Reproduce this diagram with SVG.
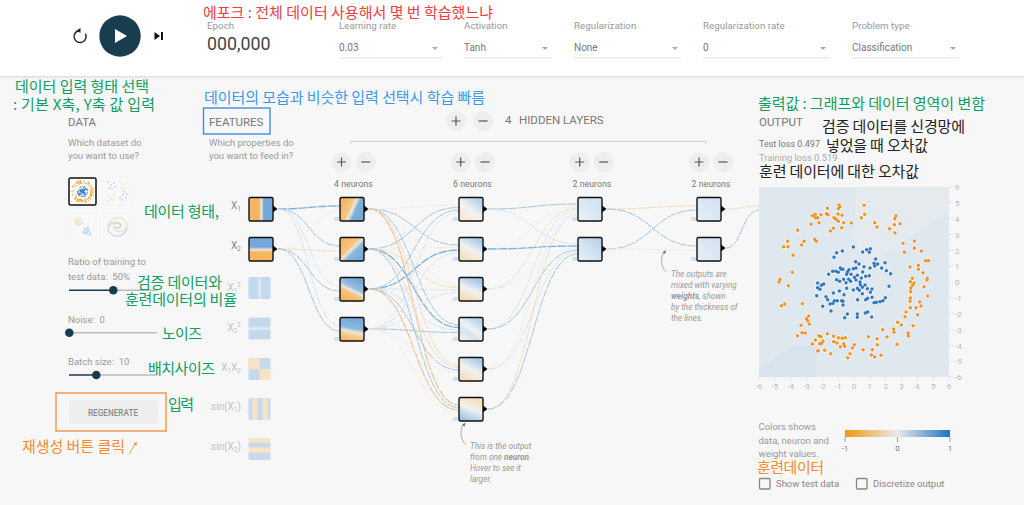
<svg xmlns="http://www.w3.org/2000/svg" width="1024" height="505" viewBox="0 0 1024 505">
<style>
text{font-family:Roboto,"Liberation Sans",sans-serif;fill:#999;font-size:9.5px}
.h{font-size:11.500px;fill:#777}
.lab{font-size:9.800px;fill:#999}
.val{font-size:10px;fill:#777}
.kr{font-family:"Noto Sans CJK KR",sans-serif;font-size:15px}
.gr{fill:#0f9d62}.bl{fill:#3d98ea}.re{fill:#ee4040}.or{fill:#f98a2d}.bk{fill:#222}
.hint{font-size:8.200px;font-style:italic;fill:#999}
.ax{font-size:8px;fill:#bbb;text-anchor:start}
.axm{font-size:8px;fill:#bbb;text-anchor:middle}
.neu{font-size:8.800px;fill:#777;text-anchor:middle}
.fea{text-anchor:end;fill:#888;font-size:10px}
.fad{text-anchor:end;fill:#c2c2c2;font-size:10px}
.sub{font-size:6.500px}
.und{stroke:#ebebeb;stroke-width:1.5;fill:none}
.btn{fill:#eeeeee}
.sym{stroke:#555;stroke-width:1.2;fill:none}
.node{stroke:#111;stroke-width:1.4}
.link{fill:none;stroke-dasharray:9 1}
.b3{stroke:#7fb2de;stroke-width:1.3}.b2{stroke:#a3c6e4;stroke-width:1}.b1{stroke:#cfdfee;stroke-width:.8}
.o3{stroke:#efc288;stroke-width:1.1}.o2{stroke:#f3d9b6;stroke-width:.9}.o1{stroke:#f5e9d8;stroke-width:.8}
.g1{stroke:#e8eaeb;stroke-width:.8}
.track{stroke:#bbb;stroke-width:1.5}.fill{stroke:#183d4e;stroke-width:1.5}.thumb{fill:#183d4e}
</style>
<defs>
<linearGradient id="gx1" x1="0" y1="0" x2="1" y2="0"><stop offset="0" stop-color="#f5b65f"/><stop offset=".42" stop-color="#f5b65f"/><stop offset=".52" stop-color="#e9e7de"/><stop offset=".62" stop-color="#74a8d9"/><stop offset="1" stop-color="#74a8d9"/></linearGradient>
<linearGradient id="gx2" x1="0" y1="0" x2="0" y2="1"><stop offset="0" stop-color="#74a8d9"/><stop offset=".4" stop-color="#74a8d9"/><stop offset=".52" stop-color="#e9e7de"/><stop offset=".62" stop-color="#f5b65f"/><stop offset="1" stop-color="#f5b65f"/></linearGradient>
<linearGradient id="gn1" x1=".05" y1=".3" x2=".95" y2=".7"><stop offset="0" stop-color="#f5b65f"/><stop offset=".38" stop-color="#f6c582"/><stop offset=".52" stop-color="#e9e7de"/><stop offset=".66" stop-color="#7fb0dc"/><stop offset="1" stop-color="#74a8d9"/></linearGradient>
<linearGradient id="gn2" x1=".1" y1=".1" x2=".9" y2=".9"><stop offset="0" stop-color="#f5b65f"/><stop offset=".4" stop-color="#f6c582"/><stop offset=".5" stop-color="#e9e7de"/><stop offset=".62" stop-color="#8ab6de"/><stop offset="1" stop-color="#74a8d9"/></linearGradient>
<linearGradient id="gn3" x1=".7" y1=".1" x2=".3" y2=".9"><stop offset="0" stop-color="#74a8d9"/><stop offset=".42" stop-color="#9cc0e2"/><stop offset=".55" stop-color="#e9e7de"/><stop offset=".68" stop-color="#f6c582"/><stop offset="1" stop-color="#f5b65f"/></linearGradient>
<linearGradient id="gn4" x1=".6" y1="0" x2=".4" y2="1"><stop offset="0" stop-color="#74a8d9"/><stop offset=".45" stop-color="#8cb7de"/><stop offset=".6" stop-color="#e9e7de"/><stop offset=".72" stop-color="#f6d09a"/><stop offset="1" stop-color="#f5b65f"/></linearGradient>
<linearGradient id="gm1" x1=".8" y1=".1" x2=".2" y2=".9"><stop offset="0" stop-color="#b5d1ea"/><stop offset=".55" stop-color="#f4f4f2"/><stop offset="1" stop-color="#f7e8d4"/></linearGradient>
<linearGradient id="gm2" x1=".75" y1=".05" x2=".25" y2=".95"><stop offset="0" stop-color="#a9cbe8"/><stop offset=".5" stop-color="#f0f1f1"/><stop offset="1" stop-color="#f7dfbd"/></linearGradient>
<linearGradient id="gm3" x1=".7" y1="0" x2=".3" y2="1"><stop offset="0" stop-color="#98c0e4"/><stop offset=".52" stop-color="#f0f1f1"/><stop offset="1" stop-color="#f7dab2"/></linearGradient>
<linearGradient id="gm4" x1=".8" y1=".05" x2=".2" y2=".95"><stop offset="0" stop-color="#b0cfe9"/><stop offset=".45" stop-color="#eef2f5"/><stop offset=".7" stop-color="#d6e5f2"/><stop offset="1" stop-color="#f6ecdc"/></linearGradient>
<linearGradient id="gm6" x1=".7" y1="0" x2=".3" y2="1"><stop offset="0" stop-color="#f7dab2"/><stop offset=".48" stop-color="#f0f1f1"/><stop offset="1" stop-color="#98c0e4"/></linearGradient>
<linearGradient id="ga1" x1=".1" y1=".9" x2=".9" y2=".1"><stop offset="0" stop-color="#e8f0f7"/><stop offset=".5" stop-color="#dae8f4"/><stop offset="1" stop-color="#cfe1f1"/></linearGradient>
<linearGradient id="ga2" x1=".1" y1=".9" x2=".9" y2=".1"><stop offset="0" stop-color="#e5eef6"/><stop offset=".5" stop-color="#d0e2f2"/><stop offset="1" stop-color="#b9d4eb"/></linearGradient>
<linearGradient id="gb" x1=".1" y1=".9" x2=".9" y2=".1"><stop offset="0" stop-color="#e3edf5"/><stop offset="1" stop-color="#d4e4f2"/></linearGradient>
<linearGradient id="gf1" x1="0" y1="0" x2="1" y2="0"><stop offset="0" stop-color="#c3d8ec"/><stop offset=".38" stop-color="#c3d8ec"/><stop offset=".5" stop-color="#e2ebf3"/><stop offset=".62" stop-color="#c3d8ec"/><stop offset="1" stop-color="#c3d8ec"/></linearGradient>
<linearGradient id="gf2" x1="0" y1="0" x2="0" y2="1"><stop offset="0" stop-color="#c3d8ec"/><stop offset=".38" stop-color="#c3d8ec"/><stop offset=".5" stop-color="#e2ebf3"/><stop offset=".62" stop-color="#c3d8ec"/><stop offset="1" stop-color="#c3d8ec"/></linearGradient>
<linearGradient id="gs1" x1="0" y1="0" x2="1" y2="0"><stop offset="0" stop-color="#c7daec"/><stop offset=".12" stop-color="#c7daec"/><stop offset=".2" stop-color="#f7e3c6"/><stop offset=".36" stop-color="#f7e3c6"/><stop offset=".44" stop-color="#c7daec"/><stop offset=".6" stop-color="#c7daec"/><stop offset=".68" stop-color="#f7e3c6"/><stop offset=".84" stop-color="#f7e3c6"/><stop offset=".92" stop-color="#c7daec"/></linearGradient>
<linearGradient id="gs2" x1="0" y1="0" x2="0" y2="1"><stop offset="0" stop-color="#f7e3c6"/><stop offset=".16" stop-color="#f7e3c6"/><stop offset=".26" stop-color="#c7daec"/><stop offset=".38" stop-color="#c7daec"/><stop offset=".46" stop-color="#f7e3c6"/><stop offset=".62" stop-color="#f7e3c6"/><stop offset=".72" stop-color="#c7daec"/><stop offset="1" stop-color="#c7daec"/></linearGradient>
<linearGradient id="gbar" x1="0" y1="0" x2="1" y2="0"><stop offset="0" stop-color="#f0980f"/><stop offset=".5" stop-color="#e8eaeb"/><stop offset="1" stop-color="#1f74bf"/></linearGradient>
<linearGradient id="gsh" x1="0" y1="0" x2="0" y2="1"><stop offset="0" stop-color="#ddd"/><stop offset="1" stop-color="#f7f7f7"/></linearGradient>
<path id="knob" d="M0 -3.500L4.500 0L0 3.500Z" fill="#000"/>
<path id="po" d="M232 85h.01M267 75h.01M270 80h.01M265 86h.01M342 76h.01M187 107h.01M196 103h.01M196 113h.01M203 113h.01M213 104h.01M229 101h.01M234 104h.01M264 102h.01M276 106h.01M252 113h.01M258 118h.01M265 124h.01M281 128h.01M207 128h.01M183 133h.01M250 145h.01M241 153h.01M275 143h.01M304 129h.01M334 113h.01M344 103h.01M438 107h.01M434 116h.01M433 134h.01M450 131h.01M374 128h.01M381 141h.01M419 146h.01M435 159h.01M143 151h.01M194 178h.01M199 184h.01M162 184h.01M155 195h.01M113 184h.01M101 200h.01M114 200h.01M129 226h.01M459 190h.01M493 183h.01M493 205h.01M514 213h.01M463 217h.01M527 242h.01M536 242h.01M505 256h.01M505 268h.01M480 261h.01M519 278h.01M127 277h.01M90 298h.01M87 306h.01M115 317h.01M532 295h.01M531 300h.01M487 295h.01M481 305h.01M492 309h.01M488 316h.01M482 324h.01M482 335h.01M522 320h.01M533 348h.01M481 354h.01M480 364h.01M509 366h.01M513 378h.01M498 383h.01M481 383h.01M94 377h.01M104 372h.01M157 371h.01M176 408h.01M169 416h.01M173 422h.01M178 432h.01M153 436h.01M468 396h.01M503 404h.01M465 410h.01M443 427h.01M454 435h.01M489 437h.01M431 447h.01M432 457h.01M398 449h.01M142 467h.01M156 458h.01M166 459h.01M232 461h.01M206 467h.01M213 470h.01M196 480h.01M187 492h.01M209 491h.01M215 490h.01M219 483h.01M251 469h.01M265 473h.01M276 475h.01M286 473h.01M251 485h.01M261 489h.01M281 491h.01M271 500h.01M284 499h.01M313 494h.01M307 504h.01M300 521h.01M293 533h.01M355 470h.01M381 476h.01M411 471h.01M474 459h.01M475 468h.01M441 493h.01M382 494h.01M367 509h.01M339 509h.01M364 525h.01M374 531h.01M393 526h.01M242 521h.01M224 511h.01M205 512h.01M203 513h.01"/>
<path id="pb" d="M310 201h.01M350 209h.01M361 206h.01M338 216h.01M358 217h.01M277 213h.01M260 218h.01M252 232h.01M317 245h.01M327 252h.01M377 237h.01M372 250h.01M383 252h.01M405 248h.01M374 258h.01M395 264h.01M409 272h.01M422 281h.01M342 260h.01M360 264h.01M338 276h.01M271 264h.01M274 268h.01M248 274h.01M258 274h.01M265 277h.01M279 268h.01M297 269h.01M310 266h.01M318 264h.01M292 276h.01M290 283h.01M236 283h.01M303 283h.01M322 286h.01M334 294h.01M347 289h.01M358 287h.01M260 299h.01M269 304h.01M281 298h.01M296 298h.01M302 304h.01M313 292h.01M318 300h.01M330 306h.01M203 309h.01M214 316h.01M221 312h.01M210 328h.01M203 323h.01M288 308h.01M290 325h.01M268 333h.01M250 339h.01M282 344h.01M310 330h.01M322 325h.01M331 314h.01M345 315h.01M337 322h.01M328 331h.01M352 326h.01M366 327h.01M361 337h.01M337 341h.01M200 347h.01M228 350h.01M233 359h.01M240 372h.01M249 370h.01M253 362h.01M262 362h.01M275 362h.01M279 364h.01M279 375h.01M218 379h.01M243 393h.01M323 359h.01M347 359h.01M353 355h.01M366 352h.01M406 353h.01M399 362h.01M390 365h.01M379 367h.01M372 368h.01M417 319h.01M292 402h.01M284 413h.01M322 402h.01M322 412h.01M353 396h.01M346 399h.01M365 411h.01"/>
</defs>
<rect width="1024" height="505" fill="#f7f7f7"/>
<g id="header">
<rect width="1024" height="76" fill="#fff"/>
<rect y="76" width="1024" height="3" fill="url(#gsh)"/>
<g id="controls">
<path d="M85.400 33.600A6 6 0 1 1 79.500 30.500" fill="none" stroke="#222" stroke-width="1.400"/>
<path d="M80.500 28L80.500 33L76.500 30.500Z" fill="#222"/>
<circle cx="120" cy="36" r="20.700" fill="#183d4e"/>
<path d="M115 29L115 43L127 36Z" fill="#fff"/>
<path d="M154.500 32L154.500 40L160 36ZM161 32H163V40H161Z" fill="#111"/>
</g>
<g id="epoch"><text x="207" y="29" class="lab">Epoch</text><text x="207" y="50" style="font-size:17.800px;fill:#444">000,000</text></g>
<g id="sel-lr"><text x="339" y="29" class="lab">Learning rate</text><text x="339" y="51" class="val">0.03</text><path d="M432 47H438L435 50Z" fill="#aaa"/><path class="und" d="M339 57.700H442"/></g>
<g id="sel-act"><text x="464" y="29" class="lab">Activation</text><text x="464" y="51" class="val">Tanh</text><path d="M542 47H548L545 50Z" fill="#aaa"/><path class="und" d="M464 57.700H552"/></g>
<g id="sel-reg"><text x="574" y="29" class="lab">Regularization</text><text x="574" y="51" class="val">None</text><path d="M672 47H678L675 50Z" fill="#aaa"/><path class="und" d="M574 57.700H681"/></g>
<g id="sel-rate"><text x="703" y="29" class="lab">Regularization rate</text><text x="703" y="51" class="val">0</text><path d="M820 47H826L823 50Z" fill="#aaa"/><path class="und" d="M703 57.700H830"/></g>
<g id="sel-prob"><text x="852" y="29" class="lab">Problem type</text><text x="852" y="51" class="val">Classification</text><path d="M950 47H956L953 50Z" fill="#aaa"/><path class="und" d="M852 57.700H959"/></g>
</g>
<g id="connectors">
<path class="link b3" d="M278 209C309 209 309 206 340 206"/><path class="link b2" d="M278 209C309 209 309 246 340 246"/><path class="link b1" d="M278 209C309 209 309 286 340 286"/><path class="link b1" d="M278 209C309 209 309 326 340 326"/>
<path class="link o1" d="M278 249C309 249 309 211 340 211"/><path class="link o2" d="M278 249C309 249 309 251 340 251"/><path class="link b2" d="M278 249C309 249 309 291 340 291"/><path class="link b2" d="M278 249C309 249 309 331 340 331"/>
<path class="link o1" d="M369 209C414 209 414 205 459 205"/><path class="link b2" d="M369 209C414 209 414 245 459 245"/><path class="link o1" d="M369 209C414 209 414 285 459 285"/><path class="link b2" d="M369 209C414 209 414 325 459 325"/><path class="link o2" d="M369 209C414 209 414 365 459 365"/><path class="link o3" d="M369 209C414 209 414 405 459 405"/>
<path class="link b2" d="M369 249C414 249 414 207.500 459 207.500"/><path class="link o1" d="M369 249C414 249 414 247.500 459 247.500"/><path class="link o2" d="M369 249C414 249 414 287.500 459 287.500"/><path class="link b3" d="M369 249C414 249 414 327.500 459 327.500"/><path class="link o2" d="M369 249C414 249 414 367.500 459 367.500"/><path class="link b2" d="M369 249C414 249 414 407.500 459 407.500"/>
<path class="link b2" d="M369 289C414 289 414 210 459 210"/><path class="link b3" d="M369 289C414 289 414 250 459 250"/><path class="link b1" d="M369 289C414 289 414 290 459 290"/><path class="link b1" d="M369 289C414 289 414 330 459 330"/><path class="link b2" d="M369 289C414 289 414 370 459 370"/><path class="link o3" d="M369 289C414 289 414 410 459 410"/>
<path class="link b1" d="M369 329C414 329 414 212.500 459 212.500"/><path class="link b1" d="M369 329C414 329 414 252.500 459 252.500"/><path class="link b1" d="M369 329C414 329 414 292.500 459 292.500"/><path class="link b2" d="M369 329C414 329 414 332.500 459 332.500"/><path class="link g1" d="M369 329C414 329 414 372.500 459 372.500"/><path class="link o1" d="M369 329C414 329 414 412.500 459 412.500"/>
<path class="link b2" d="M488 209C533 209 533 204 578 204"/><path class="link b1" d="M488 209C533 209 533 244 578 244"/>
<path class="link o1" d="M488 249C533 249 533 206 578 206"/><path class="link b3" d="M488 249C533 249 533 246 578 246"/>
<path class="link o2" d="M488 289C533 289 533 208 578 208"/><path class="link g1" d="M488 289C533 289 533 248 578 248"/>
<path class="link b1" d="M488 329C533 329 533 210 578 210"/><path class="link b2" d="M488 329C533 329 533 250 578 250"/>
<path class="link g1" d="M488 369C533 369 533 212 578 212"/><path class="link b1" d="M488 369C533 369 533 252 578 252"/>
<path class="link o2" d="M488 409C533 409 533 214 578 214"/><path class="link b2" d="M488 409C533 409 533 254 578 254"/>
<path class="link o2" d="M607 209C652 209 652 206 697 206"/><path class="link b2" d="M607 209C652 209 652 246 697 246"/>
<path class="link b2" d="M607 249C652 249 652 210 697 210"/><path class="link g1" d="M607 249C652 249 652 250 697 250"/>
<path class="link o2" d="M726 209C742 209 742 206 759 206"/><path class="link b2" d="M726 248C742 248 742 210 759 210"/>
</g>
<g id="head-data"><text x="68" y="146">Which dataset do</text><text x="68" y="159">you want to use?</text><text x="68" y="126" class="h">DATA</text></g>
<g id="dataset-circle"><rect x="69" y="178" width="27" height="27" rx="1.500" fill="#fff" stroke="#111" stroke-width="1.500"/>
<g transform="translate(69 178) scale(.0474) translate(-26 -21)" fill="none" stroke-linecap="round" stroke-width="24"><use href="#po" stroke="#f5a030"/><use href="#pb" stroke="#3a80c8"/></g></g>
<g id="dataset-xor" opacity=".3"><rect x="104" y="178" width="27" height="27" fill="#fcfcfc" stroke="#eee"/>
<path d="M108 182h.01M111 185h.01M114 183h.01M109 188h.01M112 189h.01M115 187h.01M120 198h.01M123 195h.01M126 198h.01M122 200h.01M127 194h.01M124 192h.01" stroke="#4d90d0" stroke-width="2" stroke-linecap="round"/>
<path d="M120 182h.01M123 185h.01M126 183h.01M121 188h.01M125 189h.01M108 196h.01M111 199h.01M114 195h.01M109 201h.01M113 200h.01" stroke="#f5b040" stroke-width="2" stroke-linecap="round"/></g>
<g id="dataset-gauss" opacity=".3"><rect x="69" y="213" width="27" height="27" fill="#fcfcfc" stroke="#eee"/>
<path d="M76 220h.01M78 222h.01M80 219h.01M79 225h.01M76 224h.01M82 223h.01" stroke="#f5b040" stroke-width="3" stroke-linecap="round"/>
<path d="M85 229h.01M88 231h.01M86 233h.01M90 234h.01M84 232h.01M88 228h.01" stroke="#4d90d0" stroke-width="3" stroke-linecap="round"/></g>
<g id="dataset-spiral" opacity=".3"><rect x="104" y="213" width="27" height="27" fill="#fcfcfc" stroke="#eee"/>
<path d="M108 226A10 10 0 0 1 127 224A7 7 0 0 1 114 228A4 4 0 0 1 122 226" fill="none" stroke="#f5b040" stroke-width="1.400"/>
<path d="M127 228A10 10 0 0 1 108 230A7 7 0 0 1 121 226A4 4 0 0 1 114 226" fill="none" stroke="#4d90d0" stroke-width="1.400"/></g>
<g id="ratio"><text x="68" y="265">Ratio of training to</text><text x="68" y="280" xml:space="preserve">test data:  50%</text><path class="track" d="M113 290.300H157"/><path class="fill" d="M69 290.300H113"/><circle class="thumb" cx="113.300" cy="290.300" r="4.300"/></g>
<g id="noise"><text x="68" y="322.500" xml:space="preserve">Noise:  0</text><path class="track" d="M69 332.700H157"/><circle class="thumb" cx="69.300" cy="332.700" r="4.300"/></g>
<g id="batch"><text x="68" y="365" xml:space="preserve">Batch size:  10</text><path class="track" d="M96 375H157"/><path class="fill" d="M69 375H96"/><circle class="thumb" cx="96.300" cy="375" r="4.300"/></g>
<g id="regenerate"><rect x="56" y="393" width="110" height="38" fill="none" stroke="#f98a2d" stroke-width="1.300"/><rect x="69" y="400" width="89" height="24" rx="2" fill="#eee"/><text x="113" y="415.500" text-anchor="middle" style="font-size:8.200px;font-weight:500;fill:#8a8a8a">REGENERATE</text></g>
<g id="head-features"><rect x="203.500" y="108" width="66.500" height="26" fill="none" stroke="#3d8fe0" stroke-width="1.400"/><text x="209" y="126" class="h">FEATURES</text><text x="209" y="146">Which properties do</text><text x="209" y="159">you want to feed in?</text></g>
<g id="head-layers">
<circle class="btn" cx="456" cy="121" r="10"/><path class="sym" d="M451.500 121h9M456 116.500v9"/><circle class="btn" cx="483" cy="121" r="10"/><path class="sym" d="M478.500 121h9"/>
<text x="505" y="124" class="h">4</text><text x="519" y="124" class="h">HIDDEN LAYERS</text>
<path d="M351 144V141.500H706V144" fill="none" stroke="#ccc"/>
</g>
<g id="col1"><circle class="btn" cx="341.500" cy="162" r="10"/><path class="sym" d="M337 162h9M341.500 157.500v9"/><circle class="btn" cx="365.700" cy="162" r="10"/><path class="sym" d="M361.200 162h9"/><text x="353.500" y="186.500" class="neu">4 neurons</text></g>
<g id="col2"><circle class="btn" cx="460.700" cy="162" r="10"/><path class="sym" d="M456.200 162h9M460.700 157.500v9"/><circle class="btn" cx="485" cy="162" r="10"/><path class="sym" d="M480.500 162h9"/><text x="472.500" y="186.500" class="neu">6 neurons</text></g>
<g id="col3"><circle class="btn" cx="579.700" cy="162" r="10"/><path class="sym" d="M575.200 162h9M579.700 157.500v9"/><circle class="btn" cx="603.700" cy="162" r="10"/><path class="sym" d="M599.200 162h9"/><text x="592" y="186.500" class="neu">2 neurons</text></g>
<g id="col4"><circle class="btn" cx="699" cy="162" r="10"/><path class="sym" d="M694.500 162h9M699 157.500v9"/><circle class="btn" cx="723" cy="162" r="10"/><path class="sym" d="M718.500 162h9"/><text x="711" y="186.500" class="neu">2 neurons</text></g>
<g id="in-x1"><text x="241" y="209" class="fea">X<tspan class="sub" dy="2">1</tspan></text><rect class="node" x="249" y="197.500" width="24" height="23.500" rx="1.500" fill="url(#gx1)"/><use href="#knob" x="273" y="209"/></g>
<g id="in-x2"><text x="241" y="249" class="fea">X<tspan class="sub" dy="2">2</tspan></text><rect class="node" x="249" y="237.500" width="24" height="23.500" rx="1.500" fill="url(#gx2)"/><use href="#knob" x="273" y="249"/></g>
<g id="in-x1s"><text x="241" y="291" class="fad">X<tspan class="sub" dy="2">1</tspan><tspan class="sub" dy="-6">2</tspan></text><rect x="248.500" y="277" width="22" height="22" rx="2" fill="url(#gf1)"/></g>
<g id="in-x2s"><text x="241" y="331" class="fad">X<tspan class="sub" dy="2">2</tspan><tspan class="sub" dy="-6">2</tspan></text><rect x="248.500" y="317.500" width="22" height="22" rx="2" fill="url(#gf2)"/></g>
<g id="in-x1x2"><text x="241" y="371" class="fad">X<tspan class="sub" dy="2">1</tspan><tspan dy="-2">X</tspan><tspan class="sub" dy="2">2</tspan></text><rect x="248.500" y="358" width="22" height="22" rx="2" fill="#c7daec"/><path d="M250.500 358H259.500V369H248.500V360A2 2 0 0 1 250.500 358ZM259.500 369H270.500V378A2 2 0 0 1 268.500 380H259.500Z" fill="#f7e3c6"/></g>
<g id="in-sinx1"><text x="241" y="410" class="fad">sin(X<tspan class="sub" dy="2">1</tspan><tspan dy="-2">)</tspan></text><rect x="248.500" y="398" width="22" height="22" rx="2" fill="url(#gs1)"/></g>
<g id="in-sinx2"><text x="241" y="450" class="fad">sin(X<tspan class="sub" dy="2">2</tspan><tspan dy="-2">)</tspan></text><rect x="248.500" y="438" width="22" height="22" rx="2" fill="url(#gs2)"/></g>
<g id="n1-1"><rect x="334" y="217" width="5" height="4" fill="#d3e2ee"/><rect class="node" x="340" y="197.500" width="24" height="23.500" rx="1.500" fill="url(#gn1)"/><use href="#knob" x="364" y="209"/></g>
<g id="n1-2"><rect x="334" y="257" width="5" height="4" fill="#d3e2ee"/><rect class="node" x="340" y="237.500" width="24" height="23.500" rx="1.500" fill="url(#gn2)"/><use href="#knob" x="364" y="249"/></g>
<g id="n1-3"><rect x="334" y="297" width="5" height="4" fill="#d3e2ee"/><rect class="node" x="340" y="277.500" width="24" height="23.500" rx="1.500" fill="url(#gn3)"/><use href="#knob" x="364" y="289"/></g>
<g id="n1-4"><rect x="334" y="337" width="5" height="4" fill="#d3e2ee"/><rect class="node" x="340" y="317.500" width="24" height="23.500" rx="1.500" fill="url(#gn4)"/><use href="#knob" x="364" y="329"/></g>
<g id="n2-1"><rect x="453" y="217" width="5" height="4" fill="#d3e2ee"/><rect class="node" x="459" y="197.500" width="24" height="23.500" rx="1.500" fill="url(#gm1)"/><use href="#knob" x="483" y="209"/></g>
<g id="n2-2"><rect x="453" y="257" width="5" height="4" fill="#d3e2ee"/><rect class="node" x="459" y="237.500" width="24" height="23.500" rx="1.500" fill="url(#gm2)"/><use href="#knob" x="483" y="249"/></g>
<g id="n2-3"><rect x="453" y="297" width="5" height="4" fill="#d3e2ee"/><rect class="node" x="459" y="277.500" width="24" height="23.500" rx="1.500" fill="url(#gm3)"/><use href="#knob" x="483" y="289"/></g>
<g id="n2-4"><rect x="453" y="337" width="5" height="4" fill="#d3e2ee"/><rect class="node" x="459" y="317.500" width="24" height="23.500" rx="1.500" fill="url(#gm4)"/><use href="#knob" x="483" y="329"/></g>
<g id="n2-5"><rect x="453" y="377" width="5" height="4" fill="#d3e2ee"/><rect class="node" x="459" y="357.500" width="24" height="23.500" rx="1.500" fill="url(#gm2)"/><use href="#knob" x="483" y="369"/></g>
<g id="n2-6"><rect x="453" y="417" width="5" height="4" fill="#d3e2ee"/><rect class="node" x="459" y="397.500" width="24" height="23.500" rx="1.500" fill="url(#gm6)"/><use href="#knob" x="483" y="409"/></g>
<g id="n3-1"><rect x="572" y="217" width="5" height="4" fill="#d3e2ee"/><rect class="node" x="578" y="197.500" width="24" height="23.500" rx="1.500" fill="url(#ga1)"/><use href="#knob" x="602" y="209"/></g>
<g id="n3-2"><rect x="572" y="257" width="5" height="4" fill="#d3e2ee"/><rect class="node" x="578" y="237.500" width="24" height="23.500" rx="1.500" fill="url(#ga2)"/><use href="#knob" x="602" y="249"/></g>
<g id="n4-1"><rect x="691" y="217" width="5" height="4" fill="#d3e2ee"/><rect class="node" x="697" y="197.500" width="24" height="23.500" rx="1.500" fill="url(#gb)"/><use href="#knob" x="721" y="209"/></g>
<g id="n4-2"><rect x="691" y="257" width="5" height="4" fill="#d3e2ee"/><rect class="node" x="697" y="237.500" width="24" height="23.500" rx="1.500" fill="url(#gb)"/><use href="#knob" x="721" y="248"/></g>
<g id="hint-neuron"><path d="M465.700 444.300C461 440 459 431 463.500 424" fill="none" stroke="#999" stroke-width=".8"/><path d="M465.500 422.500L464.800 426.500L461.800 425Z" fill="#777"/>
<text x="470" y="449" class="hint">This is the output</text><text x="470" y="460" class="hint">from one <tspan font-weight="700">neuron</tspan>.</text><text x="470" y="471" class="hint">Hover to see it</text><text x="470" y="482" class="hint">larger.</text></g>
<g id="hint-weights"><path d="M666 271.700C661 267 660 258 664 252" fill="none" stroke="#999" stroke-width=".8"/><path d="M666 250L665.300 254L662.300 252.500Z" fill="#777"/>
<text x="671" y="277" class="hint">The outputs are</text><text x="671" y="288" class="hint">mixed with varying</text><text x="671" y="299" class="hint"><tspan font-weight="700">weights</tspan>, shown</text><text x="671" y="310" class="hint">by the thickness of</text><text x="671" y="321" class="hint">the lines.</text></g>
<g id="head-output"><text x="759" y="126" class="h">OUTPUT</text><text x="759" y="146.500" style="fill:#777;font-size:9px">Test loss 0.497</text><text x="759" y="161" style="fill:#aaa;font-size:9.300px">Training loss 0.519</text></g>
<g id="plot">
<rect x="759" y="187" width="190" height="190" fill="#dfe7ef"/>
<path d="M857 187H949V212L883 255L863 259L853 237Z" fill="#e5eaee"/>
<path d="M759 370L793 346L816 345L816 377H759Z" fill="#d8e3ed"/>
<g transform="translate(750 180) scale(.33333)" fill="none" stroke-linecap="round">
<use href="#po" stroke="#fff" stroke-opacity=".6" stroke-width="15"/><use href="#pb" stroke="#fff" stroke-opacity=".6" stroke-width="15"/>
<use href="#po" stroke="#f59322" stroke-width="10.500"/><use href="#pb" stroke="#3078c2" stroke-width="10.500"/>
</g>
<path d="M949 187h4M949 202.800h4M949 218.700h4M949 234.500h4M949 250.300h4M949 266.200h4M949 282h4M949 297.800h4M949 313.700h4M949 329.500h4M949 345.300h4M949 361.200h4M949 377h4M759 377v4M774.800 377v4M790.700 377v4M806.500 377v4M822.300 377v4M838.200 377v4M854 377v4M869.800 377v4M885.700 377v4M901.500 377v4M917.300 377v4M933.200 377v4M949 377v4" stroke="#ddd" stroke-width=".8"/>
<g><text class="ax" x="955" y="190">6</text><text class="ax" x="955" y="206">5</text><text class="ax" x="955" y="222">4</text><text class="ax" x="955" y="237.500">3</text><text class="ax" x="955" y="253.500">2</text><text class="ax" x="955" y="269">1</text><text class="ax" x="955" y="285">0</text><text class="ax" x="955" y="301">-1</text><text class="ax" x="955" y="317">-2</text><text class="ax" x="955" y="332.500">-3</text><text class="ax" x="955" y="348.500">-4</text><text class="ax" x="955" y="364">-5</text><text class="ax" x="955" y="380">-6</text>
<text class="axm" x="759" y="389">-6</text><text class="axm" x="774.800" y="389">-5</text><text class="axm" x="790.700" y="389">-4</text><text class="axm" x="806.500" y="389">-3</text><text class="axm" x="822.300" y="389">-2</text><text class="axm" x="838.200" y="389">-1</text><text class="axm" x="854" y="389">0</text><text class="axm" x="869.800" y="389">1</text><text class="axm" x="885.700" y="389">2</text><text class="axm" x="901.500" y="389">3</text><text class="axm" x="917.300" y="389">4</text><text class="axm" x="933.200" y="389">5</text><text class="axm" x="949" y="389">6</text></g>
</g>
<g id="legend"><text x="758.500" y="430">Colors shows</text><text x="758.500" y="444">data, neuron and</text><text x="758.500" y="457">weight values.</text>
<rect x="845" y="430" width="105" height="7" fill="url(#gbar)"/><path d="M845 437v5M897.500 437v5M950 437v5" stroke="#888" stroke-width=".8"/>
<text x="845" y="451" text-anchor="middle" style="font-size:8px;fill:#777">-1</text><text x="897.500" y="451" text-anchor="middle" style="font-size:8px;fill:#777">0</text><text x="950" y="451" text-anchor="middle" style="font-size:8px;fill:#777">1</text></g>
<g id="options"><rect x="759.500" y="478.500" width="10.500" height="10.500" rx="1" fill="none" stroke="#888" stroke-width="1.300"/><text x="776" y="486.500" style="font-size:9.500px;fill:#888">Show test data</text><rect x="856.500" y="478.500" width="10.500" height="10.500" rx="1" fill="none" stroke="#888" stroke-width="1.300"/><text x="873" y="486.500" style="font-size:9.500px;fill:#888">Discretize output</text></g>
<g id="annotations">
<text class="kr re" x="203" y="18" textLength="290">에포크 : 전체 데이터 사용해서 몇 번 학습했느냐</text>
<text class="kr gr" x="15" y="92" textLength="134">데이터 입력 형태 선택</text>
<text class="kr gr" x="13" y="110" textLength="142">: 기본 X축, Y축 값 입력</text>
<text class="kr bl" x="204" y="103" textLength="281">데이터의 모습과 비슷한 입력 선택시 학습 빠름</text>
<text class="kr gr" x="144" y="217" textLength="75">데이터 형태,</text>
<text class="kr gr" x="137" y="288" textLength="85">검증 데이터와</text>
<text class="kr gr" x="125" y="305" textLength="112">훈련데이터의 비율</text>
<text class="kr gr" x="162" y="339" textLength="40">노이즈</text>
<text class="kr gr" x="148" y="374" textLength="67">배치사이즈</text>
<text class="kr gr" x="168" y="410" textLength="26">입력</text>
<text class="kr or" x="22" y="452" textLength="103">재생성 버튼 클릭</text>
<path d="M129.300 454L135.500 443" fill="none" stroke="#f98a2d" stroke-width=".8"/><path d="M136.800 441.500L136.400 445.500L133.700 444Z" fill="#f98a2d"/>
<text class="kr gr" x="758" y="109" textLength="227">출력값 : 그래프와 데이터 영역이 변함</text>
<text class="kr bk" x="822" y="132" textLength="143">검증 데이터를 신경망에</text>
<text class="kr bk" x="826" y="151" textLength="102">넣었을 때 오차값</text>
<text class="kr bk" x="759" y="177" textLength="160">훈련 데이터에 대한 오차값</text>
<text class="kr or" x="757" y="473" textLength="67">훈련데이터</text>
</g>
</svg>
